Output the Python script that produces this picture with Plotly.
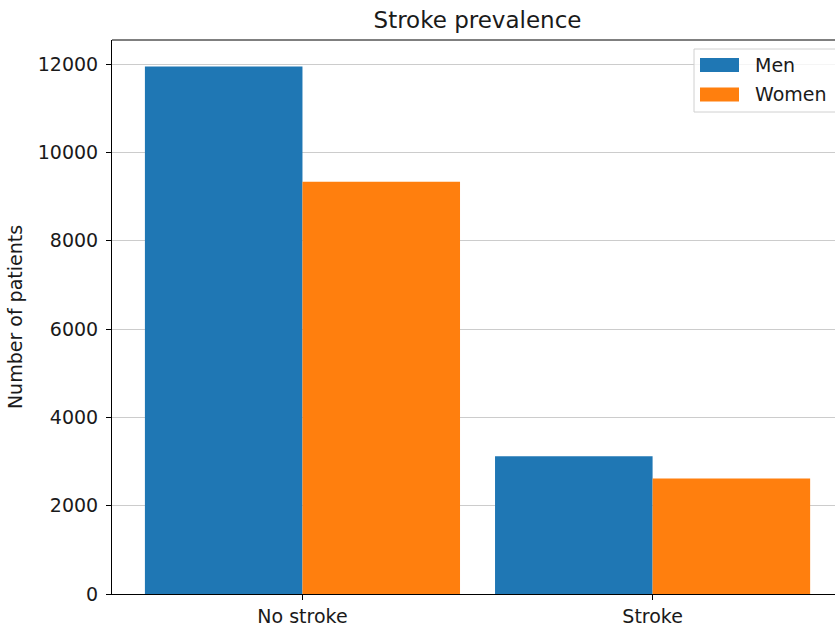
import plotly.graph_objects as go

# Patient counts by stroke status and sex
categories = ["No stroke", "Stroke"]
men = [11950, 3120]
women = [9335, 2615]
series_names = ["Men", "Women"]
y_ticks = [0, 2000, 4000, 6000, 8000, 10000, 12000]

BLUE = "#1f77b4"
ORANGE = "#ff7f0e"
FONT = "DejaVu Sans"
TEXT = "#1a1a1a"
FS = 19

W, H = 835, 627
L, R, T, B = 112, 0, 40, 33
PW, PH = W - L - R, H - T - B


def px_x(x):
    return (x - L) / PW


def px_y(y):
    return (H - B - y) / PH


fig = go.Figure()
fig.add_trace(go.Bar(name=series_names[0], x=categories, y=men,
                     marker=dict(color=BLUE, line=dict(width=0)),
                     showlegend=False))
fig.add_trace(go.Bar(name=series_names[1], x=categories, y=women,
                     marker=dict(color=ORANGE, line=dict(width=0)),
                     showlegend=False))

ymax = max(men + women) * 1.05

fig.update_layout(
    width=W, height=H,
    margin=dict(l=L, r=R, t=T, b=B, pad=0),
    paper_bgcolor="white", plot_bgcolor="white",
    barmode="group", bargap=0.1, bargroupgap=0,
    font=dict(family=FONT, size=FS, color=TEXT),
    title=dict(text="Stroke prevalence", x=px_x(477.5), xref="paper",
               xanchor="center", y=1 - 20 / H, yanchor="middle",
               font=dict(size=23, family=FONT, color=TEXT)),
    xaxis=dict(range=[-0.544, 1.521], showgrid=False, zeroline=False,
               ticks="outside", ticklen=5, tickwidth=1, tickcolor="#000000",
               showline=True, linecolor="#000000", linewidth=1, mirror=False,
               tickfont=dict(size=FS, family=FONT, color=TEXT)),
    yaxis=dict(range=[0, ymax], tickvals=y_ticks,
               ticktext=[str(v) for v in y_ticks],
               showgrid=True, gridcolor="#cccccc", gridwidth=1, zeroline=False,
               ticks="outside", ticklen=5, tickwidth=1, tickcolor="#000000",
               ticklabelstandoff=4,
               showline=True, linecolor="#000000", linewidth=1,
               tickfont=dict(size=FS, family=FONT, color=TEXT),
               title=dict(text="Number of patients", standoff=10,
                          font=dict(size=FS, family=FONT, color=TEXT))),
)

# Top spine
fig.add_shape(type="line", xref="paper", yref="paper", x0=0, x1=1, y0=1, y1=1,
              line=dict(color="#000000", width=1))

# Legend frame, patches and labels
fig.add_shape(type="rect", xref="paper", yref="paper",
              x0=px_x(694), x1=px_x(850), y0=px_y(112), y1=px_y(49),
              line=dict(color="#d0d0d0", width=1), fillcolor="rgba(255,255,255,0.8)")
for i, (name, color) in enumerate(zip(series_names, [BLUE, ORANGE])):
    yc = 65 + 29.5 * i
    fig.add_shape(type="rect", xref="paper", yref="paper",
                  x0=px_x(700), x1=px_x(739), y0=px_y(yc + 7), y1=px_y(yc - 7),
                  line=dict(width=0), fillcolor=color)
    fig.add_annotation(xref="paper", yref="paper", x=px_x(753), y=px_y(yc),
                       text=name, showarrow=False, xanchor="left", yanchor="middle",
                       font=dict(size=FS, family=FONT, color=TEXT))

fig.write_html("out.html")
